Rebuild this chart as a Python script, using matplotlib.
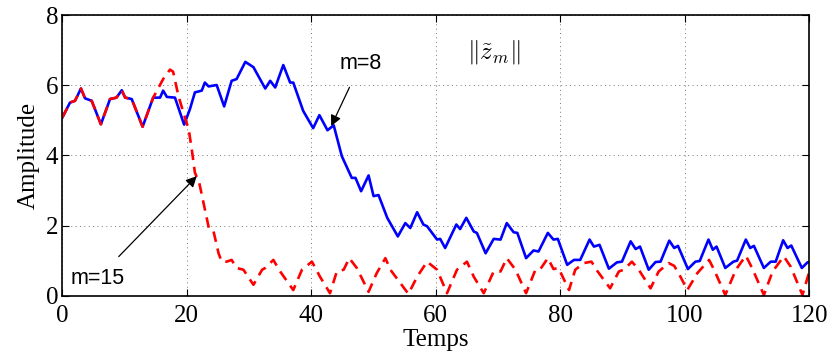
"""
Amplitude of ||z~_m|| over time for m=8 and m=15.
"""

import numpy as np
import matplotlib.pyplot as plt

# ---------------------------------------------------------------
# Data
# ---------------------------------------------------------------

t_m8 = [0, 1.24, 2.04, 3.0, 3.65, 4.72, 6.2, 7.67, 8.7, 9.55, 10.1, 11.15, 12.9,
        14.6, 15.7, 16.2, 16.8, 18.1, 19.57, 20.5, 21.3, 22.4, 22.9, 23.5, 24.8,
        26.0, 27.2, 28.0, 29.4, 30.7, 32.6, 33.4, 34.2, 35.5, 36.6, 37.1, 38.7,
        40.3, 41.3, 42.6, 43.6, 44.9, 46.5, 47.1, 48.0, 49.2, 50.0, 50.8, 52.2,
        53.9, 55.1, 55.9, 57.0, 58.0, 58.6, 60.2, 60.7, 61.5, 63.3, 63.9, 64.9,
        66.1, 66.6, 68.0, 69.3, 70.4, 71.4, 72.5, 73.1, 74.5, 75.7, 76.5, 78.0,
        78.9, 79.6, 81.1, 82.2, 83.2, 84.7, 85.4, 86.3, 87.8, 89.1, 89.9, 91.3,
        92.1, 92.8, 94.2, 95.3, 96.1, 97.5, 98.3, 98.9, 100.5, 101.7, 102.4,
        103.8, 104.5, 105.1, 106.5, 107.8, 108.4, 109.8, 110.5, 111.1, 112.7,
        113.8, 114.6, 115.8, 116.5, 117.1, 118.8, 119.7, 120]
a_m8 = [5.08, 5.51, 5.56, 5.91, 5.63, 5.56, 4.89, 5.61, 5.65, 5.86, 5.65, 5.61, 4.82,
        5.65, 5.65, 5.85, 5.67, 5.65, 4.88, 5.32, 5.80, 5.85, 6.08, 5.97, 6.01,
        5.40, 6.13, 6.18, 6.67, 6.52, 5.91, 6.13, 5.94, 6.58, 6.08, 6.08, 5.27,
        4.78, 5.15, 4.72, 4.86, 3.98, 3.36, 3.36, 2.98, 3.43, 2.84, 2.87, 2.22,
        1.69, 2.07, 1.93, 2.38, 2.03, 1.98, 1.60, 1.62, 1.36, 2.03, 1.90, 2.22,
        1.83, 1.79, 1.21, 1.62, 1.60, 2.07, 1.81, 1.79, 1.07, 1.29, 1.26, 1.79,
        1.60, 1.62, 0.88, 1.02, 1.02, 1.60, 1.40, 1.45, 0.77, 0.95, 0.97, 1.55,
        1.33, 1.40, 0.74, 0.96, 0.97, 1.57, 1.36, 1.42, 0.76, 0.97, 0.99,
        1.60, 1.31, 1.40, 0.79, 0.97, 1.00, 1.60, 1.36, 1.42, 0.79,
        0.97, 0.97, 1.58, 1.36, 1.43, 0.79, 0.95, 0.95]

t_m15 = [0, 1.24, 2.04, 3.0, 3.65, 4.72, 6.2, 7.67, 8.7, 9.55, 10.1, 11.15, 12.9,
         14.6, 16.2, 17.3, 17.8, 18.65, 19.7, 20.3, 20.8, 21.3, 22.0, 22.8, 23.6,
         24.3, 25.1, 25.6, 26.4, 27.2, 28.0, 29.1, 30.7, 32.1, 32.6, 33.9, 35.0,
         37.1, 38.5, 40.1, 41.4, 43.0, 44.1, 45.2, 46.1, 47.3, 49.2, 50.5, 51.9,
         52.7, 55.6, 57.0, 58.6, 60.2, 61.8, 63.4, 65.0, 66.1, 67.7, 69.3, 70.4,
         71.4, 72.8, 74.5, 76.0, 76.8, 78.0, 78.9, 79.7, 81.4, 82.4, 83.8, 85.0,
         86.0, 88.0, 89.4, 90.2, 91.5, 92.6, 94.5, 95.8, 97.4, 98.3, 99.3, 100.4,
         102.0, 103.9, 104.7, 106.5, 108.2, 109.8, 110.8, 112.7, 114.1, 115.9,
         117.0, 118.9, 120]
a_m15 = [5.08, 5.51, 5.56, 5.91, 5.63, 5.56, 4.89, 5.61, 5.65, 5.86, 5.65, 5.61, 4.82,
         5.65, 6.18, 6.45, 6.39, 5.70, 5.08, 4.75, 4.17, 3.51, 3.22, 2.55, 1.88,
         1.83, 1.21, 0.97, 0.97, 1.02, 0.79, 0.74, 0.31, 0.74, 0.79, 1.02, 0.69,
         0.16, 0.74, 0.97, 0.54, 0.07, 0.69, 0.74, 1.07, 0.79, 0.11, 0.64, 1.07,
         0.74, 0.05, 0.54, 0.97, 0.74, 0.07, 0.74, 0.97, 0.54, 0.07, 0.69, 0.69,
         1.07, 0.74, 0.07, 0.74, 0.76, 1.07, 0.76, 0.79, 0.16, 0.74, 0.93, 0.97,
         0.69, 0.21, 0.69, 0.74, 0.97, 0.74, 0.21, 0.69, 0.93, 0.85, 0.54, 0.16,
         0.64, 1.02, 0.74, 0.02, 0.74, 1.14, 0.79, 0.02, 0.69, 1.12,
         0.83, 0.02, 0.69]

x_ticks = [0, 20, 40, 60, 80, 100, 120]
y_ticks = [0, 2, 4, 6, 8]

# ---------------------------------------------------------------
# Plot
# ---------------------------------------------------------------

plt.rcParams["font.family"] = "Liberation Serif"
plt.rcParams["mathtext.fontset"] = "cm"

fig = plt.figure(figsize=(8.34, 3.61), dpi=100)
ax = fig.add_axes([0.0747, 0.181, 0.8957, 0.7767])

ax.plot(t_m8, a_m8, color="#0000ff", linewidth=1.9, solid_joinstyle="round")
ax.plot(t_m15, a_m15, color="#ff0000", linewidth=1.9, linestyle=(0, (4, 2.6)))

ax.set_xlim(0, 120)
ax.set_ylim(0, 8)
ax.set_xticks(x_ticks)
ax.set_yticks(y_ticks)
ax.tick_params(direction="in", length=5, width=0.8, labelsize=18, pad=3,
               top=True, right=True)
ax.tick_params(axis="x", pad=7)
ax.grid(True, linestyle=(0, (1, 3.5)), color="#777777", linewidth=0.7)
for sp in ax.spines.values():
    sp.set_linewidth(1.2)

ax.set_xlabel("Temps", fontsize=18, labelpad=1)
ax.set_ylabel("Amplitude", fontsize=18, labelpad=4)

ax.annotate("m=8", xy=(43.2, 4.84), xytext=(47.9, 6.61),
            fontsize=15.5, family="Liberation Sans", ha="center", va="center",
            arrowprops=dict(arrowstyle="-|>", color="black", lw=0.9,
                            mutation_scale=16, shrinkA=8, shrinkB=0))
ax.annotate("m=15", xy=(21.6, 3.41), xytext=(5.6, 0.48),
            fontsize=15.5, family="Liberation Sans", ha="center", va="center",
            arrowprops=dict(arrowstyle="-|>", color="black", lw=0.9,
                            mutation_scale=16, shrinkA=9, shrinkB=0))
ax.text(69.3, 6.95, r"$\|\tilde{z}_m\|$", fontsize=18, ha="center", va="center")

plt.savefig("out.png", dpi=100)
plt.close()
